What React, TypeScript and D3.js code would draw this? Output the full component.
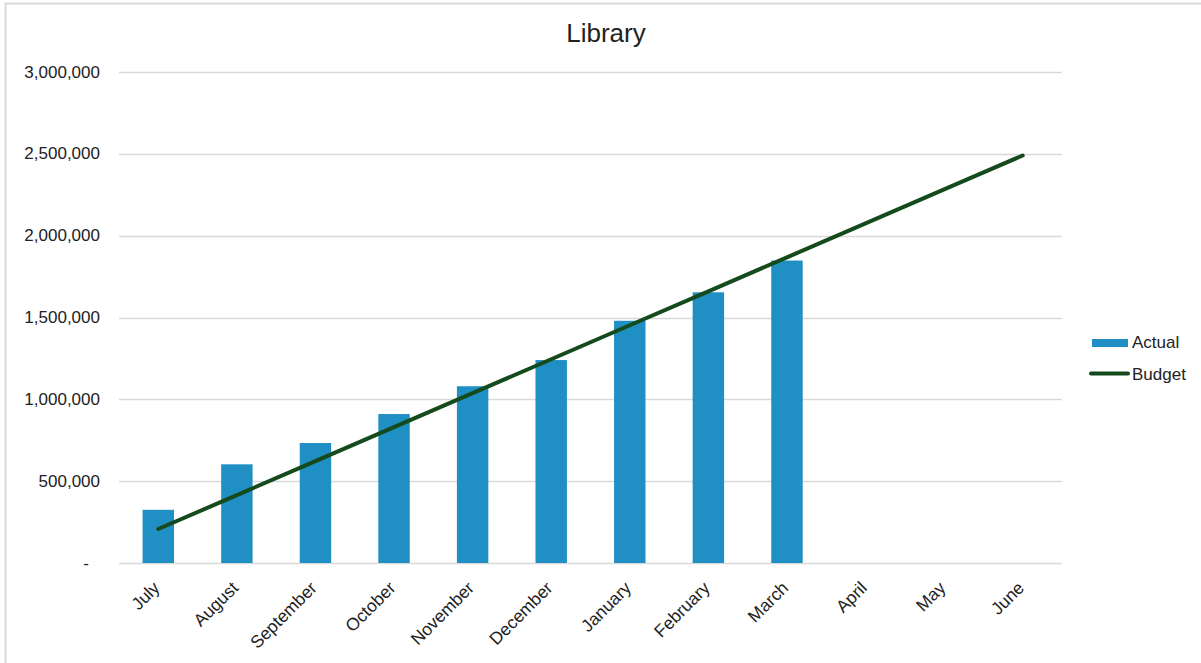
import React, { useEffect, useRef } from "react";
import * as d3 from "d3";

const months = [
  "July", "August", "September", "October", "November", "December",
  "January", "February", "March", "April", "May", "June",
];
const actual: (number | null)[] = [
  325000, 603000, 733000, 910000, 1080000, 1240000,
  1480000, 1654000, 1848000, null, null, null,
];
const budget = [
  207500, 415000, 622500, 830000, 1037500, 1245000,
  1452500, 1660000, 1867500, 2075000, 2282500, 2490000,
];
const yTicks = [0, 500000, 1000000, 1500000, 2000000, 2500000, 3000000];

const W = 1201;
const H = 663;
const FONT = "'Liberation Sans', Arial, sans-serif";
const FS = 17;

export default function App() {
  const ref = useRef<SVGSVGElement>(null);

  useEffect(() => {
    const svg = d3.select(ref.current);
    svg.selectAll("*").remove();

    const left = 119, right = 1062, top = 72, bottom = 563;

    const band = d3.scaleBand<string>().domain(months).range([left, right]);
    const y = d3.scaleLinear().domain([0, 3000000]).range([bottom, top]);
    const cx = (m: string) => band(m)! + band.bandwidth() / 2;

    // frame
    svg.append("path")
      .attr("d", `M5.5,${H} L5.5,3.5 L${W},3.5`)
      .attr("fill", "none")
      .attr("stroke", "#d9d9d9")
      .attr("stroke-width", 2);

    // title
    svg.append("text")
      .attr("x", 606).attr("y", 42)
      .attr("text-anchor", "middle")
      .attr("font-family", FONT).attr("font-size", 26)
      .attr("fill", "#222")
      .text("Library");

    // gridlines
    svg.append("g").selectAll("line").data(yTicks).join("line")
      .attr("x1", left).attr("x2", right)
      .attr("y1", (d) => Math.round(y(d)) + 0.5).attr("y2", (d) => Math.round(y(d)) + 0.5)
      .attr("stroke", "#d9d9d9").attr("stroke-width", 1.5);

    // y labels
    const fmt = d3.format(",");
    svg.append("g").selectAll("text").data(yTicks).join("text")
      .attr("x", (d) => (d === 0 ? 89 : 100))
      .attr("y", (d) => y(d) + 5.5)
      .attr("text-anchor", "end")
      .attr("font-family", FONT).attr("font-size", FS)
      .attr("fill", "#222")
      .text((d) => (d === 0 ? "-" : fmt(d)));

    // bars
    const bw = band.bandwidth() / 2.5;
    svg.append("g").selectAll("rect")
      .data(months.map((m, i) => ({ m, v: actual[i] })).filter((d) => d.v != null))
      .join("rect")
      .attr("x", (d) => cx(d.m) - bw / 2)
      .attr("width", bw)
      .attr("y", (d) => y(d.v as number))
      .attr("height", (d) => y(0) - y(d.v as number))
      .attr("fill", "#1f8fc4");

    // budget line
    const line = d3.line<number>()
      .x((_, i) => cx(months[i]))
      .y((d) => y(d));
    svg.append("path")
      .datum(budget)
      .attr("d", line)
      .attr("fill", "none")
      .attr("stroke", "#154a1c")
      .attr("stroke-width", 4)
      .attr("stroke-linecap", "round");

    // x labels
    svg.append("g").selectAll("text").data(months).join("text")
      .attr("transform", (m) => `translate(${cx(m) + 2.5},${bottom + 26}) rotate(-45)`)
      .attr("text-anchor", "end")
      .attr("font-family", FONT).attr("font-size", 17.5)
      .attr("fill", "#222")
      .text((m) => m);

    // legend
    const lg = svg.append("g");
    lg.append("rect").attr("x", 1092).attr("y", 339).attr("width", 36).attr("height", 8).attr("fill", "#1f8fc4");
    lg.append("text").attr("x", 1132).attr("y", 348)
      .attr("font-family", FONT).attr("font-size", FS).attr("fill", "#222").text("Actual");
    lg.append("line").attr("x1", 1091).attr("x2", 1128).attr("y1", 373.5).attr("y2", 373.5)
      .attr("stroke", "#154a1c").attr("stroke-width", 4).attr("stroke-linecap", "round");
    lg.append("text").attr("x", 1132).attr("y", 379.5)
      .attr("font-family", FONT).attr("font-size", FS).attr("fill", "#222").text("Budget");
  }, []);

  return (
    <svg
      ref={ref}
      width={W}
      height={H}
      style={{ position: "absolute", left: 0, top: 0, background: "#fff" }}
    />
  );
}
